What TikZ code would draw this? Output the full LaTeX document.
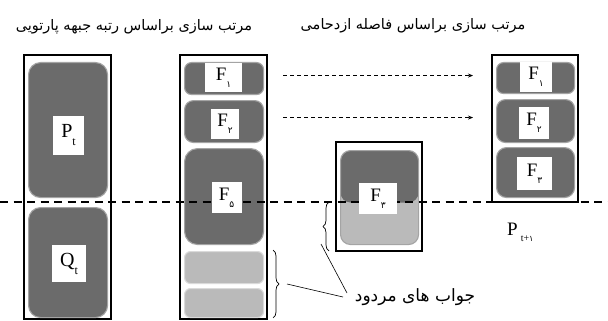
\documentclass[tikz,border=0pt]{standalone}
\usepackage{fontspec}
\setmainfont{Liberation Serif}
\newfontfamily\arabicfont[Script=Arabic]{DejaVu Sans}
\TeXXeTstate=1
\usetikzlibrary{decorations.pathreplacing,arrows.meta}
\definecolor{blockdark}{HTML}{6B6B6B}
\definecolor{blocklight}{HTML}{BABABA}
\definecolor{rimdark}{HTML}{A4A4A4}
\definecolor{rimlight}{HTML}{DADADA}
\newcommand\psub[1]{\raisebox{-7pt}{\arabicfont\fontsize{9}{10}\selectfont #1}}
\newcommand\lsub[1]{\raisebox{-8pt}{\fontsize{12}{13}\selectfont #1}}
\tikzset{
  outerbox/.style={draw=black, line width=1.6pt, anchor=north west, inner sep=0pt, outer sep=0pt},
  darkblock/.style={fill=blockdark, draw=rimdark, line width=1.1pt, rounded corners=#1, anchor=north west, inner sep=0pt, minimum width=79pt},
  darkblock/.default=9pt,
  lightblock/.style={fill=blocklight, draw=rimlight, line width=1.1pt, rounded corners=6pt, anchor=north west, inner sep=0pt, minimum width=79pt},
  labelbox/.style={fill=white, inner sep=0pt, font=\fontsize{19}{20}\selectfont},
  bigdash/.style={line width=2.3pt, dash pattern=on 8pt off 5.5pt},
  flowarrow/.style={line width=0.8pt, dash pattern=on 4pt off 3pt, -{Stealth[length=5pt,width=4pt]}},
  bracestyle/.style={decorate, decoration={brace, amplitude=6pt}, line width=0.7pt},
  pointer/.style={line width=0.6pt},
  persian/.style={font=\arabicfont\fontsize{14.5}{16}\selectfont, inner sep=0pt}
}
\begin{document}
\begin{tikzpicture}[x=1pt,y=-1pt]
\useasboundingbox (0,0) rectangle (608,321);
\fill[white] (0,0) rectangle (608,321);

% titles
\node[persian] (title1) at (134,27) {\beginR مرتب سازی براساس رتبه جبهه پارتویی\endR};
\node[persian] (title2) at (413,26) {\beginR مرتب سازی براساس فاصله ازدحامی\endR};

% box 1
\node[outerbox, minimum width=87pt, minimum height=264pt] (box1) at (24,55) {};
\node[darkblock=12pt, minimum height=135pt] (pt) at (28,62) {};
\node[darkblock=12pt, minimum height=110pt] (qt) at (28,207) {};

% box 2
\node[outerbox, minimum width=87pt, minimum height=264pt] (box2) at (180,55) {};
\node[darkblock=7pt, minimum height=32pt] (af1) at (184,62) {};
\node[darkblock=9pt, minimum height=42pt] (af2) at (184,100) {};
\node[darkblock=13pt, minimum height=96pt] (af5) at (184,148) {};
\node[lightblock, minimum height=32pt] (rej1) at (184,251) {};
\node[lightblock, minimum height=29pt] (rej2) at (184,288) {};

% box 3
\node[outerbox, minimum width=86pt, minimum height=109pt] (box3) at (336,142) {};
\node[fill=blocklight, draw=rimdark, line width=1.1pt, rounded corners=10pt, anchor=north west, inner sep=0pt, minimum width=78pt, minimum height=94pt,
  path picture={\fill[blockdark] (path picture bounding box.north west) rectangle ([yshift=-52pt]path picture bounding box.north east);}] (bf3) at (340,150) {};

% box 4
\node[outerbox, minimum width=86pt, minimum height=147pt] (box4) at (492,55) {};
\node[darkblock=7pt, minimum width=78pt, minimum height=31pt] (cf1) at (496,62) {};
\node[darkblock=9pt, minimum width=78pt, minimum height=43pt] (cf2) at (496,99) {};
\node[darkblock=10pt, minimum width=78pt, minimum height=50pt] (cf3) at (496,147) {};

% dashed separating line
\coordinate (dl) at (0,202);
\coordinate (dr) at (608,202);
\draw[bigdash] (dl) -- (dr);

% labels
\node[labelbox, font=\fontsize{20}{21}\selectfont, minimum width=31pt, minimum height=39pt] (lpt) at (68.5,135) {P\lsub{t}};
\node[labelbox, font=\fontsize{20}{21}\selectfont, minimum width=34pt, minimum height=37pt] (lqt) at (69,263.5) {Q\lsub{t}};
\node[labelbox, minimum width=37pt, minimum height=29pt] (laf1) at (223.5,77.5) {F\psub{۱}};
\node[labelbox, minimum width=28pt, minimum height=30pt] (laf2) at (225,124) {F\psub{۲}};
\node[labelbox, minimum width=30pt, minimum height=31pt] (laf5) at (226.5,197.5) {F\psub{۵}};
\node[labelbox, minimum width=38pt, minimum height=31pt] (lbf3) at (378,198.5) {F\psub{۳}};
\node[labelbox, minimum width=32pt, minimum height=30pt] (lcf1) at (536,77) {F\psub{۱}};
\node[labelbox, minimum width=30pt, minimum height=32pt] (lcf2) at (534,123) {F\psub{۲}};
\node[labelbox, minimum width=35pt, minimum height=33pt] (lcf3) at (534.5,173.5) {F\psub{۳}};
\node[inner sep=0pt, anchor=base west, font=\fontsize{19}{20}\selectfont] (ptp1) at (507,235) {P\hspace{3pt}\raisebox{-6.5pt}{\fontsize{10}{11}\selectfont t+{\arabicfont\fontsize{8}{9}\selectfont ۱}}};

% arrows
\draw[flowarrow] ([xshift=19pt,yshift=3pt]af1.east) -- ([xshift=-23pt,yshift=2.5pt]cf1.west);
\draw[flowarrow] ([xshift=19pt,yshift=4pt]af2.east) -- ([xshift=-23pt,yshift=3.5pt]cf2.west);

% braces
\coordinate (b1top) at (273,250);
\coordinate (b1bot) at (273,318);
\draw[bracestyle] (b1top) -- (b1bot);
\coordinate (b2top) at (329,202);
\coordinate (b2bot) at (329,251);
\draw[bracestyle] (b2bot) -- (b2top);

% rejected label and pointers
\node[persian, font=\arabicfont\fontsize{17}{18}\selectfont] (rej) at (415,297) {\beginR جواب های مردود\endR};
\coordinate (tip1) at (287,284);
\coordinate (end1) at (343,297);
\coordinate (tip2) at (321,244);
\coordinate (end2) at (347,293);
\draw[pointer] (tip1) -- (end1);
\draw[pointer] (tip2) -- (end2);
\end{tikzpicture}
\end{document}
